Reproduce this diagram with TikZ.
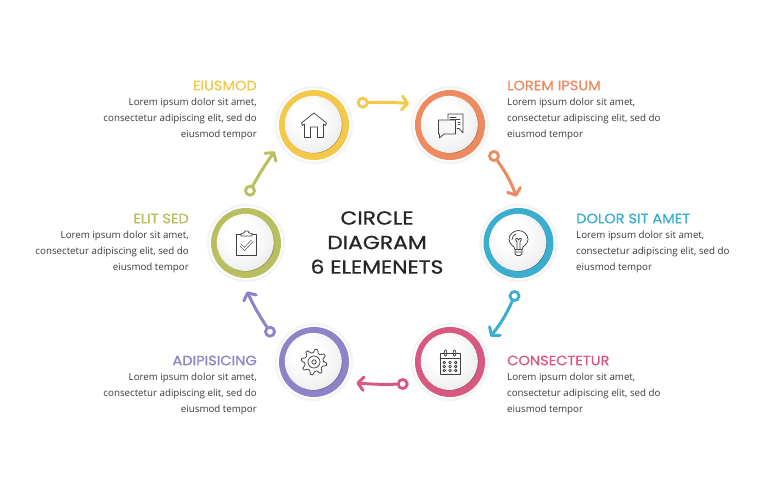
\documentclass[tikz,border=0pt]{standalone}
\usepackage{fontspec}
\setmainfont{Open Sans}
\newfontfamily\headfont[FakeBold=0.8,FakeStretch=1.08]{Poppins}
\newfontfamily\ttlfont[FakeBold=0.7,FakeStretch=1.15]{Poppins}
\usetikzlibrary{arrows.meta,bending}
\definecolor{cyel}{HTML}{F3C84B}
\definecolor{cora}{HTML}{EE8A60}
\definecolor{cblu}{HTML}{3BAECF}
\definecolor{cpnk}{HTML}{D8597F}
\definecolor{cpur}{HTML}{8F82C8}
\definecolor{cgrn}{HTML}{B8BF5E}
\definecolor{ctxt}{HTML}{3A3A3A}
\definecolor{cico}{HTML}{404040}
\pgfdeclareradialshading{discshade}{\pgfpoint{-8bp}{10bp}}{
  color(0bp)=(white); color(12bp)=(white); color(26bp)=(black!5); color(42bp)=(black!14); color(50bp)=(black!14)}
\tikzset{
  x=1pt,y=-1pt,
  halo/.style={circle,minimum size=76pt,inner sep=0pt,fill=white,draw=black!4.5,line width=2.2pt},
  ringc/.style={circle,minimum size=63.5pt,inner sep=0pt,line width=6.5pt,draw=#1,fill=#1!75!black},
  disc/.style={circle,minimum size=57pt,inner sep=0pt,shading=discshade},
  dot/.style={circle,minimum size=9pt,inner sep=0pt,draw=#1,line width=2.8pt,fill=white},
  conn/.style={draw=#1,line width=3pt,line cap=round,-{Straight Barb[length=5.5pt,width=13.5pt,round]}},
  ico/.style={draw=cico,line width=.75pt,line join=round,line cap=round},
  head/.style={font=\headfont\fontsize{13.5}{16}\selectfont,text=#1,inner sep=0pt},
  body/.style={font=\fontsize{9.75}{16.1}\selectfont,text=ctxt,inner sep=0pt},
  ttl/.style={font=\ttlfont\fontsize{19}{24.5}\selectfont,text=black!85,inner sep=0pt,align=center},
  iconhouse/.pic={
    \draw[ico] (0,-12)--(12.5,-2)--(11.5,0.5)--(9.5,-1)--(9.5,12.5)--(3.5,12.5)--(3.5,2)--(-3.5,2)--(-3.5,12.5)--(-9.5,12.5)--(-9.5,-1)--(-11.5,0.5)--(-12.5,-2)--cycle;
  },
  iconchat/.pic={
    \draw[ico] (-2,-6)--(-2,-11)--(13,-11)--(13,3.5)--(13,8)--(9,3.5)--(7,3.5);
    \draw[ico] (0,-8)--(6,-8) (0,-5.5)--(10,-5.5) (8,-3)--(10,-3) (8,-0.5)--(10,-0.5);
    \draw[ico,fill=black!3] (-11.5,-5)--(5.5,-5)--(5.5,9)--(-6,9)--(-10.5,13)--(-10.5,9)--(-11.5,9)--cycle;
  },
  iconbulb/.pic={
    \draw[ico] (-3.5,6.5) .. controls (-3.5,2.5) and (-9.5,2) .. (-9.5,-3.5) .. controls (-9.5,-8.5) and (-5,-12.5) .. (0,-12.5) .. controls (5,-12.5) and (9.5,-8.5) .. (9.5,-3.5) .. controls (9.5,2) and (3.5,2.5) .. (3.5,6.5) -- cycle;
    \draw[ico] (-1.5,6.5)--(-1.5,-1) .. controls (-5,-5) and (-1,-6) .. (0,-3) .. controls (1,-6) and (5,-5) .. (1.5,-1) -- (1.5,6.5);
    \draw[ico] (-3.5,9)--(3.5,9) (-3.5,6.5)--(-3.5,11)--(-1.5,12.5)--(1.5,12.5)--(3.5,11)--(3.5,6.5);
    \draw[ico] (-6.5,-3.5) .. controls (-6.5,-6) and (-4.5,-8.5) .. (-2.5,-9);
  },
  iconcal/.pic={
    \draw[ico] (-10,-8.5) rectangle (10,12.5);
    \draw[ico] (-10,-3.5)--(10,-3.5);
    \draw[ico] (-4.5,-9) ellipse (1.4pt and 3pt) (4.5,-9) ellipse (1.4pt and 3pt);
    \foreach \cx in {-5.7,0,5.7} \foreach \cy in {0.5,4.5,8.5}
      \draw[ico,fill=white] (\cx,\cy) circle (1.3pt);
  },
  icongear/.pic={
    \draw[ico] (0:9.2) \foreach \a in {0,45,...,315} {
      -- (\a-5:9.4) -- (\a+6:12.8) -- (\a+16:12.8) -- (\a+27:9.4) -- (\a+40:9.4)
    } -- cycle;
    \draw[ico] (0,0) circle (6pt) (0,0) circle (2.2pt);
  },
  iconclip/.pic={
    \draw[ico] (-10,-9) rectangle (10.5,12.5);
    \draw[ico,fill=white] (-5,-7)--(-5,-9.5)--(-2,-10)--(-1,-12)--(2,-12)--(3,-10)--(6,-9.5)--(6,-7)--cycle;
    \draw[draw=cico,line width=.6pt,double=white,double distance=1.6pt,line join=miter] (-5.5,2)--(-1.5,6)--(6,-2);
  },
}
\newcommand{\stepcircle}[4]{%
  \node[halo] (#1h) at #2 {};
  \node[ringc=#3] (#1r) at #2 {};
  \node[disc,xshift=-.7pt,yshift=.6pt] (#1) at #2 {};
  \pic at #2 {#4};
}
\begin{document}
\begin{tikzpicture}
\useasboundingbox[fill=white] (0,0) rectangle (765,500);

\stepcircle{a}{(314,125)}{cyel}{iconhouse}
\stepcircle{b}{(450,125)}{cora}{iconchat}
\stepcircle{c}{(518.5,243)}{cblu}{iconbulb}
\stepcircle{d}{(450,362)}{cpnk}{iconcal}
\stepcircle{e}{(314,362)}{cpur}{icongear}
\stepcircle{f}{(246,243)}{cgrn}{iconclip}

\node[dot=cyel] (s1) at (362.7,102.7) {};
\node[dot=cora] (s2) at (494,156) {};
\node[dot=cblu] (s3) at (514.5,296) {};
\node[dot=cpnk] (s4) at (402.7,384) {};
\node[dot=cpur] (s5) at (270,331.7) {};
\node[dot=cgrn] (s6) at (250,190.7) {};
\coordinate (t1) at (409,103.5);
\coordinate (t2) at (516.5,196.5);
\coordinate (t3) at (490.5,336.5);
\coordinate (t4) at (356.5,383);
\coordinate (t5) at (247,291.5);
\coordinate (t6) at (274.5,151.5);
\draw[conn=cyel] (s1) to[bend left=3] (t1);
\draw[conn=cora] (s2) to[bend left=7] (t2);
\draw[conn=cblu] (s3) to[bend left=7] (t3);
\draw[conn=cpnk] (s4) to[bend left=3] (t4);
\draw[conn=cpur] (s5) to[bend left=4] (t5);
\draw[conn=cgrn] (s6) to[bend left=3] (t6);

\node[ttl] (ttl) at (377,242.5) {CIRCLE\\DIAGRAM\\6 ELEMENETS};

\node[head=cyel,anchor=east] (ah) at (257,85.5) {EIUSMOD};
\node[body,align=right,anchor=north east] (ab) at (257,98) {Lorem ipsum dolor sit amet,\\consectetur adipiscing elit, sed do\\eiusmod tempor};
\node[head=cora,anchor=west] (bh) at (507,85.5) {LOREM IPSUM};
\node[body,align=left,anchor=north west] (bb) at (507,98) {Lorem ipsum dolor sit amet,\\consectetur adipiscing elit, sed do\\eiusmod tempor};
\node[head=cblu,anchor=west] (ch) at (576,218.5) {DOLOR SIT AMET};
\node[body,align=left,anchor=north west] (cb) at (576,231) {Lorem ipsum dolor sit amet,\\consectetur adipiscing elit, sed do\\eiusmod tempor};
\node[head=cpnk,anchor=west] (dh) at (507,360.5) {CONSECTETUR};
\node[body,align=left,anchor=north west] (db) at (507,373) {Lorem ipsum dolor sit amet,\\consectetur adipiscing elit, sed do\\eiusmod tempor};
\node[head=cpur,anchor=east] (eh) at (257,360.5) {ADIPISICING};
\node[body,align=right,anchor=north east] (eb) at (257,373) {Lorem ipsum dolor sit amet,\\consectetur adipiscing elit, sed do\\eiusmod tempor};
\node[head=cgrn,anchor=east] (fh) at (189,218.5) {ELIT SED};
\node[body,align=right,anchor=north east] (fb) at (189,231) {Lorem ipsum dolor sit amet,\\consectetur adipiscing elit, sed do\\eiusmod tempor};
\end{tikzpicture}
\end{document}
